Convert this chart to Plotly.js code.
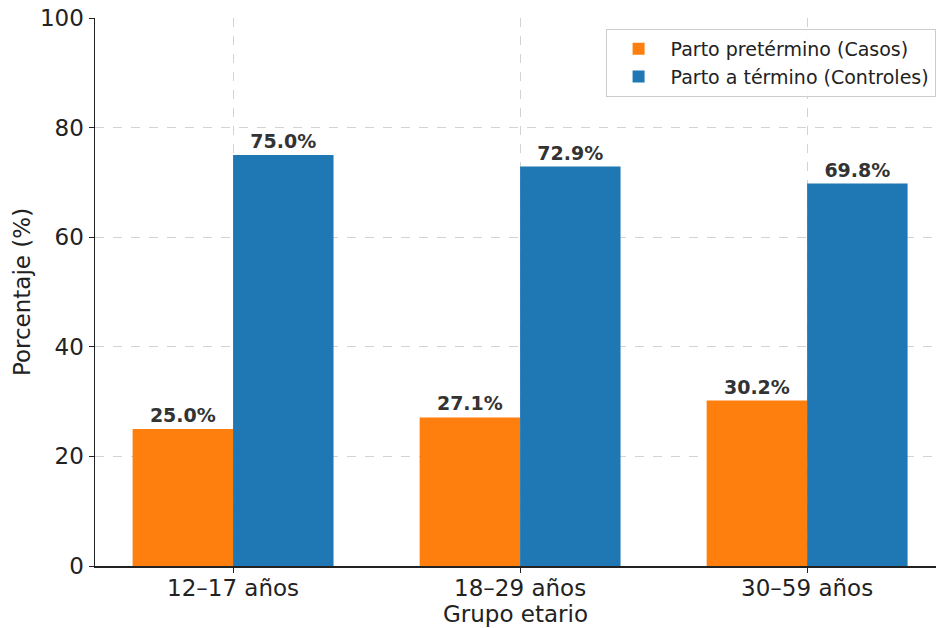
<!DOCTYPE html>
<html>
<head>
<meta charset="utf-8">
<script src="https://cdn.plot.ly/plotly-3.0.1.min.js"></script>
<style>html,body{margin:0;padding:0;background:#fff;}#chart{width:936px;height:628px;}</style>
</head>
<body>
<div id="chart"></div>
<script>
const categories = ["12–17 años", "18–29 años", "30–59 años"];
const casos = [25.0, 27.1, 30.2];
const controles = [75.0, 72.9, 69.8];
const seriesNames = ["Parto pretérmino (Casos)", "Parto a término (Controles)"];
const yTicks = [0, 20, 40, 60, 80, 100];

const FONT = "DejaVu Sans, sans-serif";
const labelFont = {family: "DejaVu Sans, sans-serif", size: 19, color: "#333333", weight: "bold"};

const traces = [
  {
    type: "bar", name: seriesNames[0], x: [0, 1, 2], y: casos,
    marker: {color: "#ff7f0e", line: {width: 0}},
    text: casos.map(v => "<b>" + v.toFixed(1) + "%</b>"),
    textposition: "outside", cliponaxis: false,
    textfont: labelFont
  },
  {
    type: "bar", name: seriesNames[1], x: [0, 1, 2], y: controles,
    marker: {color: "#1f77b4", line: {width: 0}},
    text: controles.map(v => "<b>" + v.toFixed(1) + "%</b>"),
    textposition: "outside", cliponaxis: false,
    textfont: labelFont
  }
];

const layout = {
  width: 936, height: 628,
  margin: {l: 95, r: 0, t: 18, b: 62},
  paper_bgcolor: "#ffffff", plot_bgcolor: "#ffffff",
  font: {family: FONT, color: "#222222"},
  barmode: "group", bargap: 0.3, bargroupgap: 0,
  showlegend: true,
  legend: {
    x: 0.9995, xanchor: "right", y: 0.98, yanchor: "top",
    bordercolor: "#cccccc", borderwidth: 1, bgcolor: "rgba(255,255,255,0.9)",
    font: {family: FONT, size: 19, color: "#222222"},
    itemwidth: 54,
    tracegroupgap: 2
  },
  xaxis: {
    range: [-0.481, 2.449],
    tickmode: "array", tickvals: [0, 1, 2], ticktext: categories,
    tickfont: {family: FONT, size: 23, color: "#222222"},
    ticks: "outside", ticklen: 5, tickcolor: "#222222",
    ticklabelstandoff: -4,
    showline: true, linecolor: "#222222", linewidth: 1.5,
    showgrid: true, gridcolor: "#d3d3d3", griddash: "dash", gridwidth: 1,
    zeroline: false,
    title: {text: "Grupo etario", font: {family: FONT, size: 23, color: "#222222"}, standoff: 2}
  },
  yaxis: {
    range: [0, 100],
    tickmode: "array", tickvals: yTicks,
    tickfont: {family: FONT, size: 23, color: "#222222"},
    ticks: "outside", ticklen: 5, tickcolor: "#222222",
    showline: true, linecolor: "#222222", linewidth: 1.5,
    showgrid: true, gridcolor: "#d3d3d3", griddash: "dash", gridwidth: 1,
    zeroline: false,
    title: {text: "Porcentaje (%)", font: {family: FONT, size: 23, color: "#222222"}, standoff: 3}
  }
};

Plotly.newPlot("chart", traces, layout, {displayModeBar: false, staticPlot: true});
</script>
</body>
</html>
